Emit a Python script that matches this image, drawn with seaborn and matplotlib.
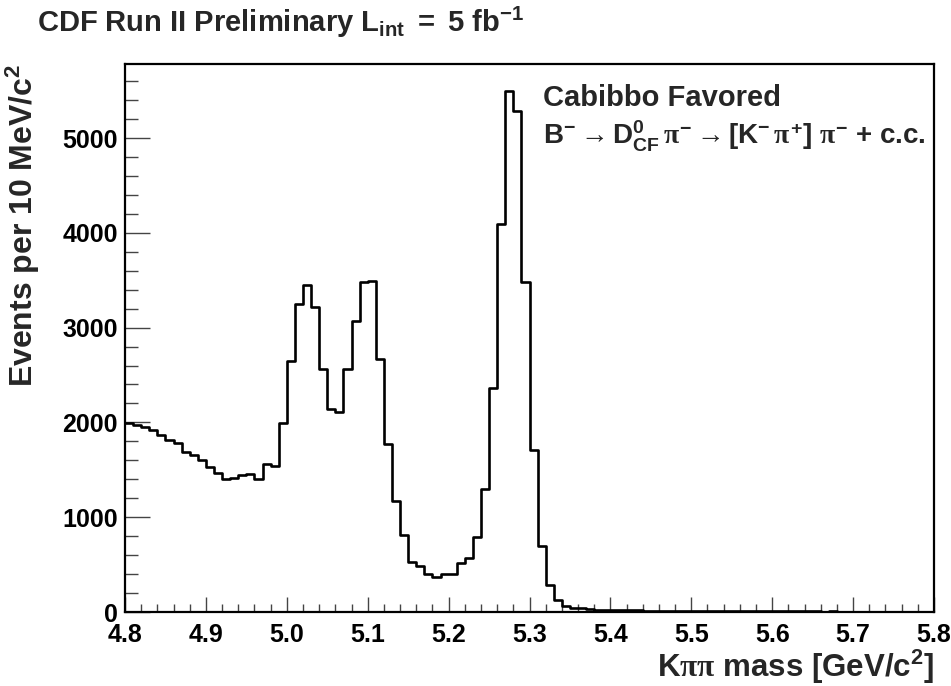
import numpy as np
import pandas as pd
import matplotlib
matplotlib.use("Agg")
import matplotlib.pyplot as plt
from matplotlib.ticker import MultipleLocator
import seaborn as sns

# K pi pi invariant mass spectrum, 10 MeV/c^2 bins between 4.80 and 5.80 GeV/c^2
mass_min = 4.80
mass_max = 5.80
n_bins = 100

events_per_bin = [
    1990, 1970, 1955, 1920, 1867, 1814, 1779, 1691, 1656, 1603,
    1533, 1463, 1403, 1410, 1440, 1456, 1400, 1561, 1545, 1990,
    2648, 3245, 3449, 3221, 2560, 2141, 2113, 2563, 3073, 3484,
    3495, 2669, 1775, 1174, 808, 531, 487, 401, 373, 397,
    401, 513, 573, 788, 1297, 2360, 4090, 5500, 5290, 3480,
    1708, 700, 285, 122, 63, 40, 38, 32, 25, 22,
    20, 18, 20, 16, 15, 14, 15, 12, 13, 11,
    12, 10, 11, 9, 10, 9, 8, 9, 8, 7,
    8, 7, 6, 7, 6, 6, 5, 6, 5, 5,
    4, 5, 4, 4, 5, 4, 3, 4, 3, 3,
]

x_tick_labels = ["4.8", "4.9", "5.0", "5.1", "5.2", "5.3",
                 "5.4", "5.5", "5.6", "5.7", "5.8"]
y_tick_values = [0, 1000, 2000, 3000, 4000, 5000]

title_text = r"$\mathrm{CDF\ Run\ II\ Preliminary\ L_{int}\ =\ 5\ fb^{-1}}$"
channel_name = "Cabibbo Favored"
decay_text = (r"$\mathrm{B^{-}}\rightarrow\mathrm{D^{0}_{CF}}\,\pi^{-}\rightarrow"
              r"\mathrm{[K^{-}}\,\pi^{+}\mathrm{]}\ \pi^{-}$ + c.c.")
x_label = r"$\mathrm{K}\pi\pi\mathrm{\ mass\ [GeV/c^{2}]}$"
y_label = r"$\mathrm{Events\ per\ 10\ MeV/c^{2}}$"

edges = np.linspace(mass_min, mass_max, n_bins + 1)
centers = 0.5 * (edges[:-1] + edges[1:])
df = pd.DataFrame({"mass": centers, "events": events_per_bin})

sns.set_style("white")
plt.rcParams.update({
    "font.family": ["Liberation Sans", "DejaVu Sans"],
    "font.weight": "bold",
    "mathtext.fontset": "custom",
    "mathtext.rm": "Liberation Sans:bold",
    "mathtext.bf": "Liberation Sans:bold",
    "mathtext.it": "Liberation Serif",
    "mathtext.default": "it",
    "axes.edgecolor": "black",
    "axes.linewidth": 1.6,
})

W, H = 951, 686
fig = plt.figure(figsize=(W / 100, H / 100), dpi=100)
ax_left, ax_right, ax_top, ax_bottom = 125, 934, 64, 612
ax = fig.add_axes([ax_left / W, 1 - ax_bottom / H,
                   (ax_right - ax_left) / W, (ax_bottom - ax_top) / H])

sns.histplot(data=df, x="mass", weights="events", bins=n_bins,
             binrange=(mass_min, mass_max), element="step", fill=False,
             color="black", linewidth=1.9, ax=ax)

ax.set_xlim(mass_min, mass_max)
ax.set_ylim(0, 5781)

ax.set_xticks(np.linspace(mass_min, mass_max, len(x_tick_labels)))
ax.set_xticklabels(x_tick_labels)
ax.xaxis.set_minor_locator(MultipleLocator(0.02))
ax.set_yticks(y_tick_values)
ax.set_yticklabels([str(v) for v in y_tick_values])
ax.yaxis.set_minor_locator(MultipleLocator(200))

ax.tick_params(axis="both", which="both", direction="in", colors="#444444",
               labelcolor="black", bottom=True, left=True, top=False, right=False)
ax.tick_params(axis="x", which="major", length=11, width=1.0, pad=8, labelsize=18)
ax.tick_params(axis="x", which="minor", length=5.5, width=1.0)
ax.tick_params(axis="y", which="major", length=18, width=1.0, pad=5, labelsize=18)
ax.tick_params(axis="y", which="minor", length=9, width=1.0)
for lbl in ax.get_xticklabels() + ax.get_yticklabels():
    lbl.set_fontweight("bold")

for side in ["left", "right", "top", "bottom"]:
    ax.spines[side].set_visible(True)
    ax.spines[side].set_color("black")

ax.set_xlabel(x_label, fontsize=22.5, loc="right")
ax.set_ylabel(y_label, fontsize=23, loc="top")
ax.xaxis.set_label_coords(1.0, -0.066)
ax.yaxis.set_label_coords(-0.102, 1.0)

fig.text(37 / W, 1 - 32 / H, title_text, fontsize=21, ha="left", va="baseline")
fig.text(543 / W, 1 - 106 / H, channel_name, fontsize=21, fontweight="bold",
         ha="left", va="baseline")
fig.text(543 / W, 1 - 144 / H, decay_text, fontsize=20, fontweight="bold",
         ha="left", va="baseline")

fig.savefig("out.png", dpi=100)
